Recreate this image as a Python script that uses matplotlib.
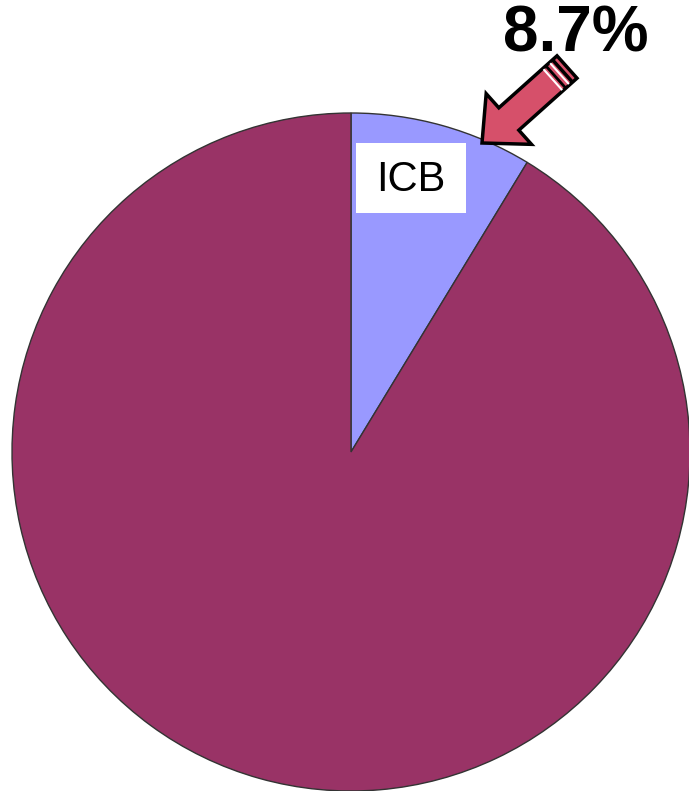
import matplotlib.pyplot as plt
from matplotlib.patches import FancyArrow, Rectangle
import numpy as np

# pie data
labels = ['ICB', 'Other']
values = [8.7, 91.3]
colors = ['#9999FF', '#993366']
pct_text = '8.7%'

W, H = 689, 791
fig = plt.figure(figsize=(W/100, H/100), dpi=100)
ax = fig.add_axes([0, 0, 1, 1])

cx, cy, r = 351, H-452, 339
ax.pie(values, colors=colors, startangle=90, counterclock=False,
       center=(cx, cy), radius=r, frame=True,
       wedgeprops=dict(edgecolor='#333333', linewidth=1))
ax.set_xlim(0, W)
ax.set_ylim(0, H)
ax.set_aspect('equal')
ax.axis('off')

# white label box
ax.add_patch(Rectangle((356, H-213), 110, 70, fc='white', ec='none', zorder=4))
ax.text(411, H-180, labels[0], ha='center', va='center', fontsize=30,
        family='Liberation Sans', zorder=5)

ax.text(576, H-34, pct_text, ha='center', va='center', fontsize=46,
        fontweight='bold', family='Liberation Sans')

# arrow pointing at the ICB slice
tail = np.array([567, H-67])
tip = np.array([482, H-143])
d = tip - tail
ax.add_patch(FancyArrow(tail[0], tail[1], d[0], d[1], width=30,
                        head_width=68, head_length=36,
                        length_includes_head=True, fc='#D6506A',
                        ec='black', lw=2.5, zorder=5))
u = d/np.linalg.norm(d)
n = np.array([-u[1], u[0]])
for s, c, w in ((6, 'black', 2.5), (10, 'white', 1.5), (15, 'black', 2.0), (19, 'white', 1.5)):
    p = tail + u*s
    a, b = p + n*14, p - n*14
    ax.plot([a[0], b[0]], [a[1], b[1]], color=c, lw=w, zorder=6,
            solid_capstyle='butt')

fig.savefig('out.png', dpi=100)
